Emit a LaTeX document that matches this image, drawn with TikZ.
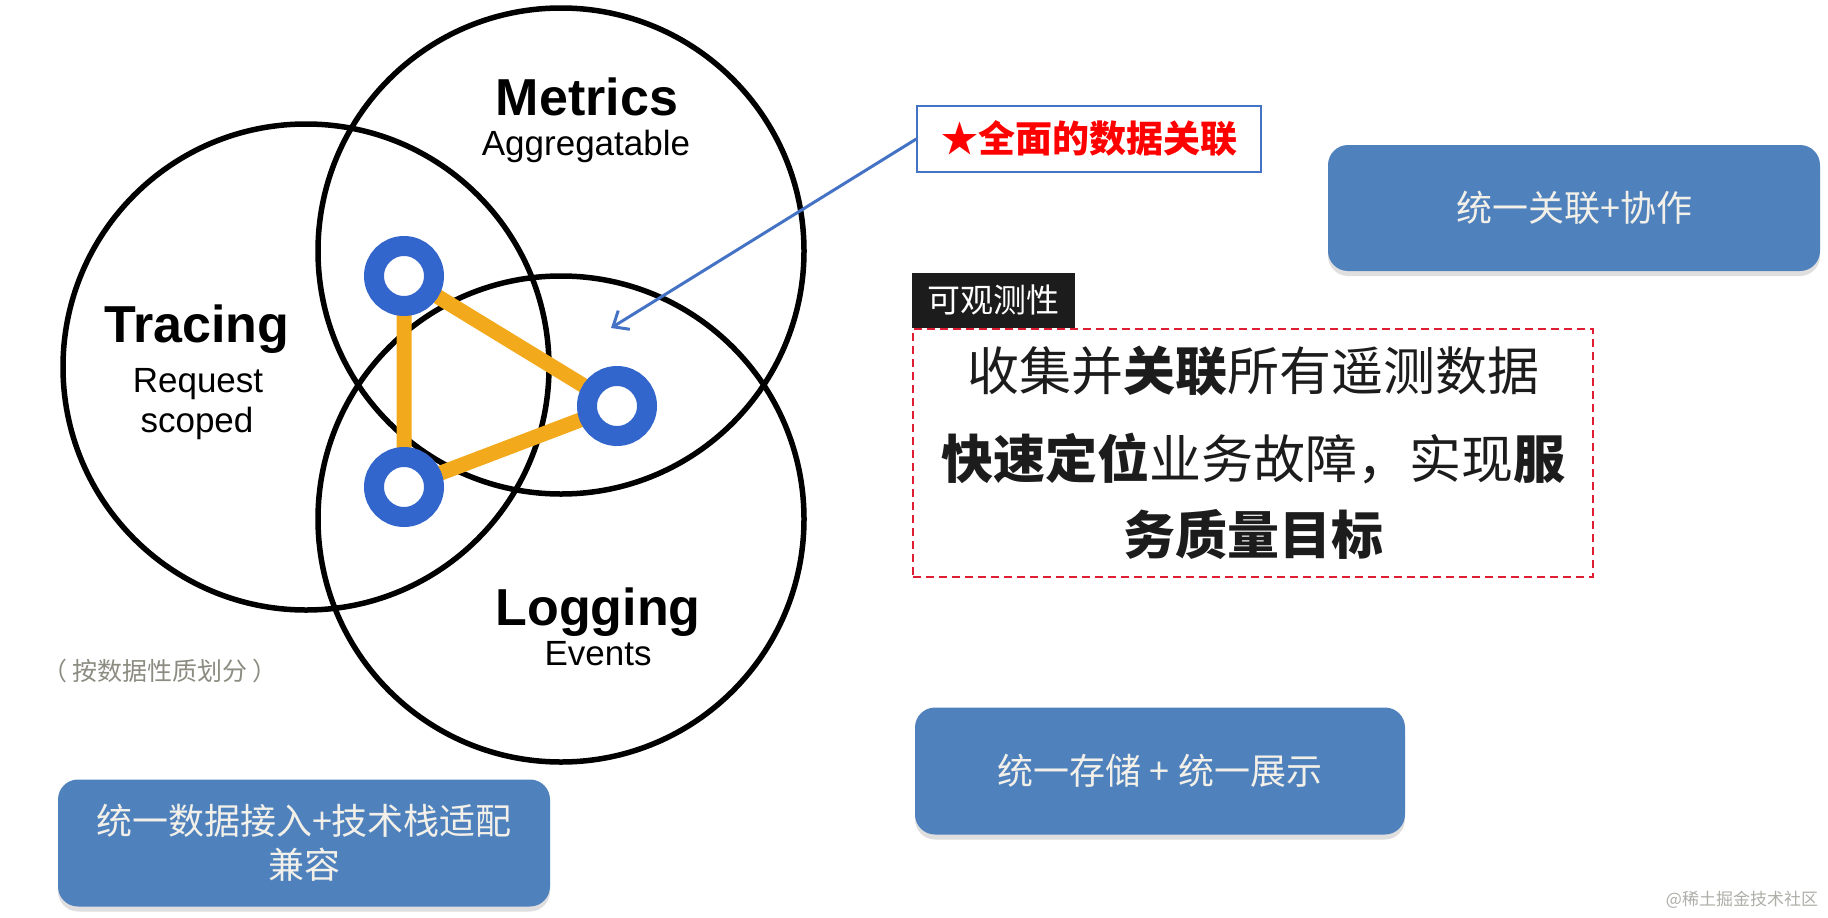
\documentclass[tikz,border=0pt]{standalone}
\usepackage{fontspec}
\setmainfont{Liberation Sans}
\newfontfamily\cjk{Noto Sans CJK SC}
\usepackage{xcolor}
\definecolor{ringblue}{RGB}{51,102,204}
\definecolor{amber}{RGB}{243,169,28}
\definecolor{slate}{RGB}{79,129,189}
\definecolor{paper}{RGB}{242,240,232}
\definecolor{ink}{RGB}{28,28,28}
\definecolor{pebble}{RGB}{140,140,130}
\definecolor{frame}{RGB}{68,114,196}
\definecolor{alarm}{RGB}{255,0,0}
\definecolor{dashred}{RGB}{222,30,50}
\usepackage{tikz}
\usetikzlibrary{arrows.meta,positioning,backgrounds,shadows}
\newcommand{\pxfont}[2]{\fontsize{#1}{#2}\selectfont}
\tikzset{
  venn/.style={circle, draw=black, line width=5.5pt, minimum size=486pt, inner sep=0pt},
  ring/.style={circle, draw=ringblue, fill=white, line width=20pt, minimum size=60pt, inner sep=0pt},
  link/.style={draw=amber, line width=15pt},
  vennhead/.style={font=\pxfont{52}{60}\bfseries, anchor=base},
  vennsub/.style={font=\pxfont{35}{42}, anchor=base},
  bluebox/.style={rounded corners=20pt, fill=slate, text=paper, align=center,
                  font=\cjk\pxfont{36}{44}, inner sep=0pt,
                  drop shadow={shadow xshift=0pt, shadow yshift=-5pt, opacity=0.25}},
}

\begin{document}
\begin{tikzpicture}[x=1pt,y=-1pt]
\useasboundingbox (0,0) rectangle (1828,918);
\node[ring] (r1) at (404,276) {};
\node[ring] (r2) at (617,406) {};
\node[ring] (r3) at (404,487) {};
\begin{scope}[on background layer]
  \node[venn] (tracing) at (306,367) {};
  \node[venn] (metrics) at (561,251) {};
  \node[venn] (logging) at (561,519) {};
  \draw[link] (r1.center) -- (r2.center) -- (r3.center) -- cycle;
\end{scope}

\node[vennhead] (mhead) at (587,115) {Metrics};
\node[vennsub] (msub) at (586,155) {Aggregatable};
\node[vennhead] (thead) at (197,342) {Tracing};
\node[vennsub] (tsub1) at (198,392) {Request};
\node[vennsub] (tsub2) at (197,432) {scoped};
\node[vennhead] (lhead) at (598,625) {Logging};
\node[vennsub] (lsub) at (598,665) {Events};
\node[text=pebble, font=\cjk\pxfont{25}{30}] (hint) at (160,671)
  {（\hspace{5pt}按数据性质划分\hspace{5pt}）};

\node[draw=frame, line width=1.5pt, minimum width=344pt, minimum height=66pt,
      text=alarm, font=\cjk\bfseries\pxfont{37}{44}] (allinone) at (1089,139) {★全面的数据关联};
\coordinate (overlap) at (611,328);
\draw[-{Straight Barb[length=13pt,width=22pt]}, draw=frame, line width=3pt]
  (allinone.west) -- (overlap);

\node[bluebox, minimum width=492pt, minimum height=126pt] (collab) at (1574,208) {统一关联+协作};
\node[bluebox, minimum width=490pt, minimum height=127pt] (store) at (1160,771) {统一存储 + 统一展示};
\node[bluebox, minimum width=492pt, minimum height=127pt] (ingest) at (304,843) {统一数据接入+技术栈适配\\兼容};

\node[draw=dashred, dash pattern=on 8pt off 5pt, line width=1.8pt, minimum width=680pt,
      minimum height=248pt, align=center, text=ink, font=\cjk\pxfont{52}{76}] (goal) at (1253,453)
  {收集并\textbf{关联}所有遥测数据\\[12pt]\textbf{快速定位}业务故障，实现\textbf{服}\\\textbf{务质量目标}};
\node[anchor=south west, fill=ink, text=white, font=\cjk\pxfont{33}{40}, minimum width=163pt,
      minimum height=55pt, inner sep=0pt] (obs) at (goal.north west) {可观测性};

\node[text=pebble!70, font=\cjk\pxfont{17}{20}] (mark) at (1742,900) {@稀土掘金技术社区};
\end{tikzpicture}
\end{document}
